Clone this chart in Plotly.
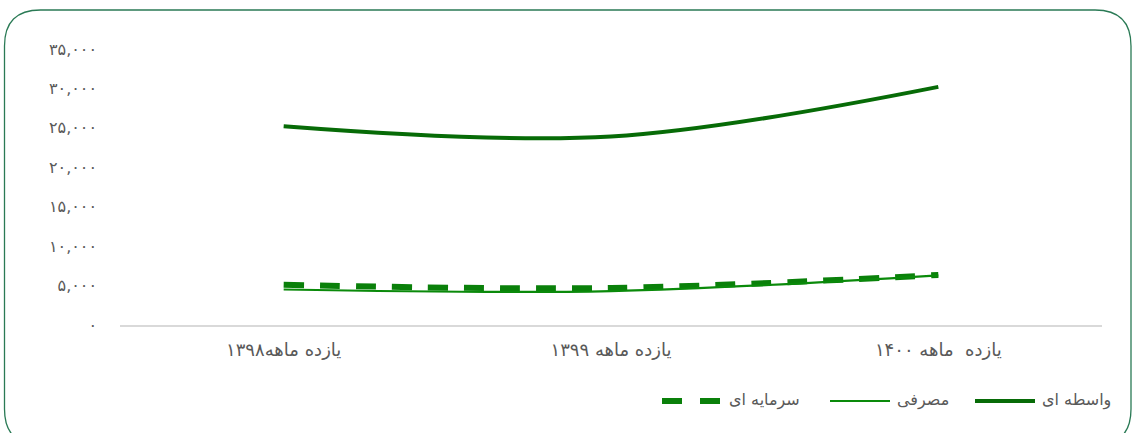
import plotly.graph_objects as go

# Categories (eleven-month periods) and series values
categories = ["یازده ماهه۱۳۹۸", "یازده ماهه ۱۳۹۹", "یازده  ماهه ۱۴۰۰"]
intermediate = [25200, 23900, 30200]   # واسطه ای
consumer = [4500, 4300, 6300]          # مصرفی
capital = [5100, 4700, 6350]           # سرمایه ای

series_names = ["سرمایه ای", "مصرفی", "واسطه ای"]

y_tick_values = [0, 5000, 10000, 15000, 20000, 25000, 30000, 35000]
y_tick_text = ["۰", "۵,۰۰۰", "۱۰,۰۰۰", "۱۵,۰۰۰", "۲۰,۰۰۰", "۲۵,۰۰۰", "۳۰,۰۰۰", "۳۵,۰۰۰"]

W, H = 1132, 433
ML, MR, MT, MB = 120, 30, 49, 108
PW, PH = W - ML - MR, H - MT - MB


def px_x(px):
    return (px - ML) / PW


def px_y(py):
    return (H - MB - py) / PH


styles = [
    dict(color="#0a800a", width=6, dash="20px,16px"),
    dict(color="#0a8a0a", width=2.2, dash="solid"),
    dict(color="#076b07", width=4, dash="solid"),
]
series_values = [capital, consumer, intermediate]

fig = go.Figure()
for name, vals, st in zip(series_names, series_values, styles):
    fig.add_trace(go.Scatter(
        x=categories, y=vals, name=name, mode="lines",
        line=dict(color=st["color"], width=st["width"], dash=st["dash"], shape="spline"),
        showlegend=False,
    ))

# Legend row: sample line followed by its label
legend_slots = [(662, 722), (830, 890), (975, 1035)]
legend_y = 401
for (lx0, lx1), name, st in zip(legend_slots, series_names, styles):
    fig.add_shape(type="line", xref="paper", yref="paper",
                  x0=px_x(lx0), x1=px_x(lx1), y0=px_y(legend_y), y1=px_y(legend_y),
                  line=dict(color=st["color"], width=st["width"],
                            dash="20px,18px" if st["dash"] != "solid" else "solid"))
    fig.add_annotation(text=name, xref="paper", yref="paper",
                       x=px_x(lx1 + 5), y=px_y(legend_y - 1),
                       xanchor="left", yanchor="middle", showarrow=False,
                       font=dict(size=16, color="#595959"))

# Rounded frame around the chart
x0, x1 = px_x(4.5), px_x(1131)
y0, y1 = px_y(10), px_y(445)
r = 36
rx, ry = r / PW, r / PH
path = (
    f"M {x0},{y1 + ry} L {x0},{y0 - ry} Q {x0},{y0} {x0 + rx},{y0} "
    f"L {x1 - rx},{y0} Q {x1},{y0} {x1},{y0 - ry} "
    f"L {x1},{y1 + ry} Q {x1},{y1} {x1 - rx},{y1} "
    f"L {x0 + rx},{y1} Q {x0},{y1} {x0},{y1 + ry} Z"
)
fig.add_shape(type="path", path=path, xref="paper", yref="paper",
              line=dict(color="#2a7a55", width=1.3), layer="below")

fig.update_layout(
    width=W, height=H,
    margin=dict(l=ML, r=MR, t=MT, b=MB),
    paper_bgcolor="white", plot_bgcolor="white",
    font=dict(family="DejaVu Sans", color="#595959"),
    showlegend=False,
    xaxis=dict(
        type="category", range=[-0.5, 2.5],
        showgrid=False, zeroline=False,
        showline=True, linecolor="#d9d9d9", linewidth=1.5,
        ticks="", tickfont=dict(size=18, color="#595959"),
        ticklabelstandoff=8,
    ),
    yaxis=dict(
        range=[0, 35000], tickvals=y_tick_values, ticktext=y_tick_text,
        showgrid=False, zeroline=False, showline=False,
        ticks="", tickfont=dict(size=16, color="#595959"),
        ticklabelstandoff=22,
    ),
)

fig.write_html("out.html")
